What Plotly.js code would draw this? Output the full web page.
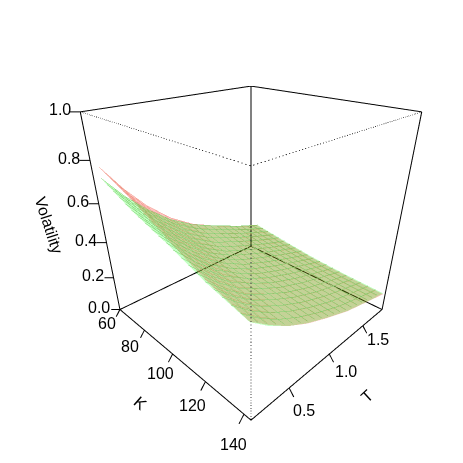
<!DOCTYPE html>
<html>
<head>
<meta charset="utf-8">
<script src="https://cdn.plot.ly/plotly-3.0.1.min.js"></script>
<style>html,body{margin:0;padding:0;background:#fff}</style>
</head>
<body>
<div id="chart" style="width:463px;height:463px"></div>
<script>
// strike / maturity grid
const strikes = [66.6, 86, 105, 124, 143];
const maturities = [0.10, 0.27, 0.45, 0.67, 0.91, 1.21, 1.52, 1.80];

const volRed = [
    [0.79, 0.715, 0.625, 0.54, 0.48],
    [0.665, 0.59, 0.52, 0.455, 0.41],
    [0.555, 0.485, 0.43, 0.38, 0.345],
    [0.45, 0.39, 0.345, 0.315, 0.285],
    [0.368, 0.315, 0.28, 0.255, 0.235],
    [0.298, 0.255, 0.225, 0.20, 0.18],
    [0.235, 0.20, 0.175, 0.155, 0.14],
    [0.185, 0.155, 0.13, 0.115, 0.105]
];
const volGreen = [
    [0.74, 0.66, 0.60, 0.53, 0.478],
    [0.63, 0.56, 0.505, 0.448, 0.405],
    [0.535, 0.475, 0.42, 0.375, 0.345],
    [0.44, 0.385, 0.345, 0.315, 0.287],
    [0.365, 0.315, 0.282, 0.257, 0.237],
    [0.299, 0.257, 0.227, 0.202, 0.182],
    [0.237, 0.203, 0.177, 0.157, 0.142],
    [0.19, 0.16, 0.135, 0.12, 0.11]
];

const kTicks = [60, 80, 100, 120, 140];
const tTicks = [0.5, 1.0, 1.5];
const volTicks = [0.0, 0.2, 0.4, 0.6, 0.8, 1.0];

const kLim = [60, 143.3];
const tLim = [0.103, 1.83];
const volLim = [0, 1];

const pad = 0.06;
const kSpan = kLim[1] - kLim[0];
const tSpan = tLim[1] - tLim[0];
const withPad = (lim) => {
    const d = (lim[1] - lim[0]) * pad;
    return [lim[0] - d, lim[1] + d];
};

// one line trace from a list of [k, t, vol] segments
function segments(list, dash, width) {
    const x = [], y = [], z = [];
    list.forEach(seg => {
        seg.forEach(p => { x.push(p[0]); y.push(p[1]); z.push(p[2]); });
        x.push(null); y.push(null); z.push(null);
    });
    return {
        type: 'scatter3d', mode: 'lines', x, y, z,
        line: { color: '#000000', width: width, dash: dash },
        showlegend: false, hoverinfo: 'skip'
    };
}

const [k0, k1] = kLim, [t0, t1] = tLim, [v0, v1] = volLim;
const solidEdges = [
    [[k0, t0, v0], [k1, t0, v0], [k1, t1, v0], [k0, t1, v0], [k0, t0, v0]],
    [[k0, t0, v1], [k0, t1, v1], [k1, t1, v1]],
    [[k0, t0, v0], [k0, t0, v1]],
    [[k1, t1, v0], [k1, t1, v1]],
    [[k0, t1, v0], [k0, t1, v1]]
];
const dottedEdges = [
    [[k0, t0, v1], [k1, t0, v1], [k1, t1, v1]],
    [[k1, t0, v0], [k1, t0, v1]]
];
const tickSegs = [
    ...kTicks.map(k => [[k, t0, v0], [k, t0 - 0.028 * tSpan, v0 - 0.032]]),
    ...tTicks.map(t => [[k1, t, v0], [k1 + 0.028 * kSpan, t, v0 - 0.032]]),
    ...volTicks.map(v => [[k0, t0, v], [k0 - 0.033 * kSpan, t0 - 0.033 * tSpan, v]])
];

function surface(z, color, lineColor) {
    return {
        type: 'surface', x: strikes, y: maturities, z: z,
        surfacecolor: z.map(r => r.map(() => 0)),
        colorscale: [[0, color], [1, color]], cmin: 0, cmax: 1,
        showscale: false, opacity: 0.23, hoverinfo: 'skip',
        lighting: { ambient: 1, diffuse: 0, specular: 0, roughness: 1, fresnel: 0 },
        contours: {
            x: { show: true, start: strikes[0], end: strikes[4], size: 3.82, color: lineColor, width: 1 },
            y: { show: true, start: maturities[0], end: maturities[7], size: 0.085, color: lineColor, width: 1 },
            z: { show: false }
        }
    };
}

const labelFont = { family: 'Liberation Sans, Arial, sans-serif', size: 16, color: '#000000' };
const label = (x, y, z, text, xshift, yshift, textangle) => ({
    x, y, z, text, xshift, yshift, textangle: textangle || 0,
    showarrow: false, font: labelFont, xanchor: 'center', yanchor: 'middle'
});

// pixel offsets of the tick labels from their tick roots
const kShiftX = [-13, -14, -12, -13, -11];
const kShiftY = [-14, -16, -19, -24, -30];
const tShiftX = [15, 16, 15];
const tShiftY = [-23, -17, -14];
const annotations = [
    ...kTicks.map((k, i) => label(k, t0, v0, String(k), kShiftX[i], kShiftY[i])),
    ...tTicks.map((t, i) => label(k1, t, v0, t.toFixed(1), tShiftX[i], tShiftY[i])),
    ...volTicks.map(v => label(k0, t0, v, v.toFixed(1), -20.5, 2)),
    label(100, t0, v0, 'K', -32, -49, 41),
    label(k1, 1.0, v0, 'T', 37, -42, -43),
    label(k0, t0, 0.5, 'Volatility', -54, -2, 72)
];

const hiddenAxis = (range) => ({
    range: range, autorange: false, visible: false,
    showgrid: false, zeroline: false, showline: false, showticklabels: false,
    showbackground: false, showspikes: false, ticks: '', title: { text: '' }
});

const traces = [
    surface(volRed, '#ff0000', '#f09a8a'),
    surface(volGreen, '#00ff00', '#7fcf6f'),
    segments(solidEdges, 'solid', 2),
    segments(dottedEdges, 'dot', 1.5),
    segments(tickSegs, 'solid', 2)
];

const layout = {
    width: 463, height: 463,
    margin: { l: 0, r: 0, t: 0, b: 0 },
    paper_bgcolor: '#ffffff',
    showlegend: false,
    scene: {
        domain: { x: [0.11, 0.975], y: [0.0713, 0.814] },
        aspectmode: 'manual',
        aspectratio: { x: 1 + 2 * pad, y: 1 + 2 * pad, z: (1 + 2 * pad) * 1.025 },
        camera: {
            eye: { x: 1.265, y: -1.265, z: 0.864 },
            center: { x: 0, y: 0, z: -0.19 },
            up: { x: 0, y: 0, z: 1 },
            projection: { type: 'perspective' }
        },
        xaxis: hiddenAxis(withPad(kLim)),
        yaxis: hiddenAxis(withPad(tLim)),
        zaxis: hiddenAxis(withPad(volLim)),
        annotations: annotations
    }
};

Plotly.newPlot('chart', traces, layout, { displayModeBar: false, responsive: false });
</script>
</body>
</html>
